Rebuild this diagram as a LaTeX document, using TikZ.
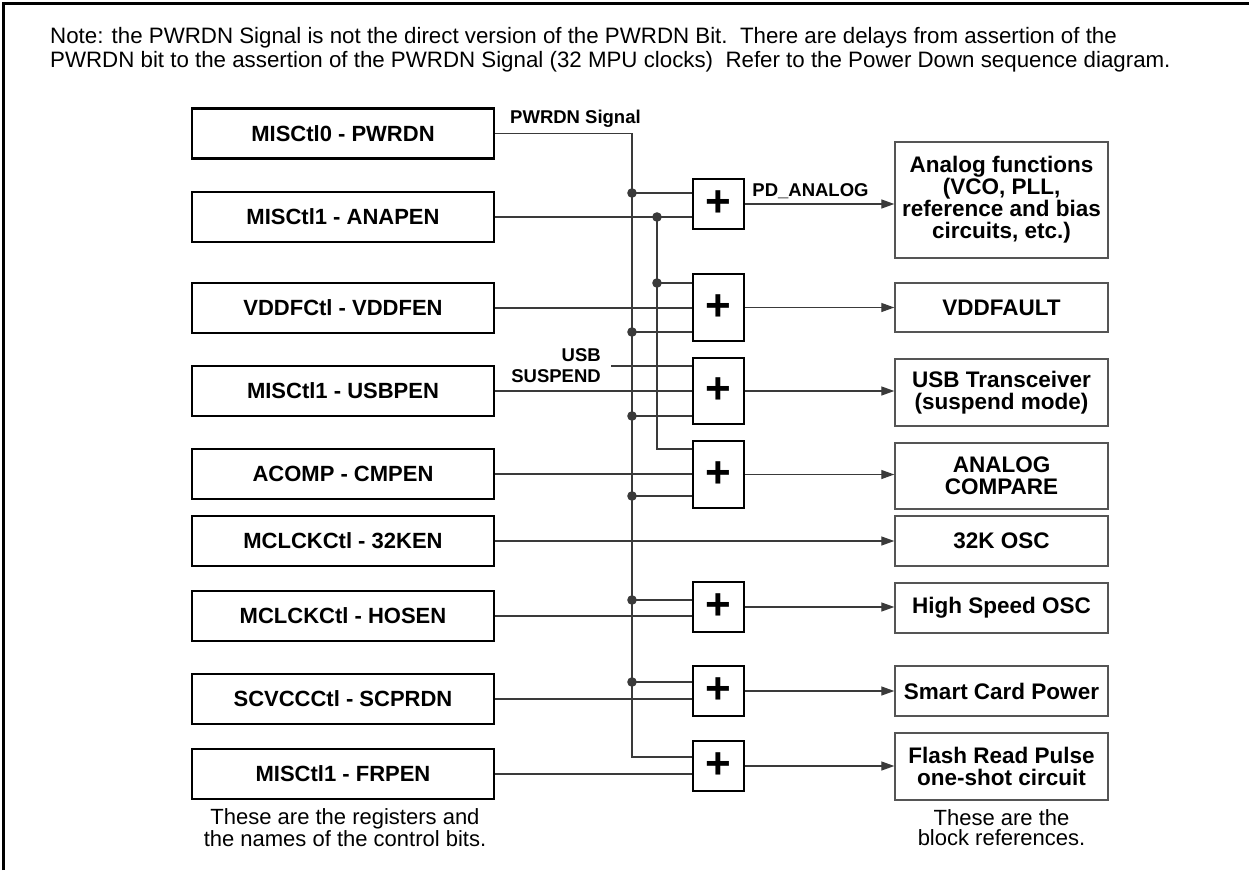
\documentclass[tikz,border=0pt]{standalone}
\usepackage{fontspec}
\setmainfont{Liberation Sans}
\usetikzlibrary{arrows.meta}

% Changing color 58 58 58
\definecolor{r58g58b58}{rgb}{0.227451,0.227451,0.227451}
% Changing color 85 85 85
\definecolor{r85g85b85}{rgb}{0.333333,0.333333,0.333333}

\begin{document}
\begin{tikzpicture}[x=1pt,y=-1pt,
    regbox/.style={draw=black, line width=2.4pt, minimum width=302pt, minimum height=50pt, inner sep=0pt, font=\fontsize{22}{22}\selectfont\bfseries},
    blockbox/.style={draw=r85g85b85, line width=1.4pt, minimum width=213pt, inner sep=0pt, align=center, font=\fontsize{22.5}{22}\selectfont\bfseries},
    orbox/.style={draw=black, line width=2pt, minimum width=51pt, inner sep=0pt, font=\fontsize{44}{44}\selectfont\bfseries},
    wire/.style={draw=r58g58b58, line width=1.3pt},
    feed/.style={wire, -{Triangle[length=13pt,width=9pt]}},
    tag/.style={inner sep=0pt, font=\fontsize{18.5}{21}\selectfont\bfseries},
    remark/.style={inner sep=0pt, align=center, font=\fontsize{22}{19.5}\selectfont}]
\useasboundingbox (0,0) rectangle (1249,870);

% Drawing frame
\draw [line width=2.5pt] (3.5,870) -- (3.5,3.5) -- (1249,3.5);

% Note text
\node [inner sep=0pt, anchor=west, align=left, font=\fontsize{22.3}{24}\selectfont] (note) at (50,50)
  {Note: the PWRDN Signal is not the direct version of the PWRDN Bit.\ \ There are delays from assertion of the\\
   PWRDN bit to the assertion of the PWRDN Signal (32 MPU clocks)\ \ Refer to the Power Down sequence diagram.};

% Register boxes
\node [regbox] (pwrdn)  at (343,133.5) {MISCtl0 - PWRDN};
\node [regbox] (anapen) at (343,217) {MISCtl1 - ANAPEN};
\node [regbox] (vddfen) at (343,308) {VDDFCtl - VDDFEN};
\node [regbox] (usbpen) at (343,391) {MISCtl1 - USBPEN};
\node [regbox] (cmpen)  at (343,474) {ACOMP - CMPEN};
\node [regbox] (kosc)   at (343,541) {MCLCKCtl - 32KEN};
\node [regbox] (hosen)  at (343,616) {MCLCKCtl - HOSEN};
\node [regbox] (scprdn) at (343,699) {SCVCCCtl - SCPRDN};
\node [regbox] (frpen)  at (343,774) {MISCtl1 - FRPEN};

% OR gates
\node [orbox, minimum height=50pt] (orA) at (718.5,204) {+};
\node [orbox, minimum height=67pt] (orV) at (718.5,307.5) {+};
\node [orbox, minimum height=66pt] (orU) at (718.5,391) {+};
\node [orbox, minimum height=67pt] (orC) at (718.5,474.5) {+};
\node [orbox, minimum height=50pt] (orH) at (718.5,607) {+};
\node [orbox, minimum height=50pt] (orS) at (718.5,691) {+};
\node [orbox, minimum height=50pt] (orF) at (718.5,766) {+};

% Block references
\node [blockbox, minimum height=116pt] (analog)   at (1001.5,200) {Analog functions\\(VCO, PLL,\\reference and bias\\circuits, etc.)};
\node [blockbox, minimum height=49pt]  (vddfault) at (1001.5,307.5) {VDDFAULT};
\node [blockbox, minimum height=67pt]  (usbx)     at (1001.5,392.5) {USB Transceiver\\(suspend mode)};
\node [blockbox, minimum height=66pt]  (acomp)    at (1001.5,476) {ANALOG\\COMPARE};
\node [blockbox, minimum height=50pt]  (osc32)    at (1001.5,541) {32K OSC};
\node [blockbox, minimum height=50pt]  (hsosc)    at (1001.5,608) {High Speed OSC};
\node [blockbox, minimum height=50pt]  (scpow)    at (1001.5,691) {Smart Card Power};
\node [blockbox, minimum height=67pt]  (flash)    at (1001.5,766.5) {Flash Read Pulse\\one-shot circuit};

% Bus points
\coordinate (b0) at (632,133.5);
\coordinate (d1) at (632,193);
\coordinate (d2) at (632,332);
\coordinate (d3) at (632,416);
\coordinate (d4) at (632,496);
\coordinate (d5) at (632,600);
\coordinate (d6) at (632,682);
\coordinate (b9) at (632,757);
\coordinate (e0) at (657,217);
\coordinate (e1) at (657,283);
\coordinate (e9) at (657,449);
\coordinate (usbs) at (611,366);

% Drawing PWRDN signal bus
\draw [wire] (pwrdn.east) -- (b0) -- (b9) -- (b9 -| orF.west);
\foreach \p/\g in {d1/orA, d2/orV, d3/orU, d4/orC, d5/orH, d6/orS}
  \draw [wire] (\p) -- (\p -| \g.west);

% Drawing ANAPEN bus
\draw [wire] (e0) -- (e9) -- (e9 -| orC.west);
\draw [wire] (e1) -- (e1 -| orV.west);

% Drawing enable lines
\foreach \r/\g in {anapen/orA, vddfen/orV, usbpen/orU, cmpen/orC, hosen/orH, scprdn/orS, frpen/orF}
  \draw [wire] (\r.east) -- (\r.east -| \g.west);
\draw [wire] (usbs) -- (usbs -| orU.west);

% Drawing outputs
\foreach \g/\b in {orA/analog, orV/vddfault, orU/usbx, orC/acomp, orH/hsosc, orS/scpow, orF/flash}
  \draw [feed] (\g.east) -- (\g.east -| \b.west);
\draw [feed] (kosc.east) -- (kosc.east -| osc32.west);

% Marking junctions by dots
\foreach \p in {d1,d2,d3,d4,d5,d6,e0,e1}
  \fill [r58g58b58] (\p) circle (4.8pt);

% Labels
\node [tag, anchor=west] (pwrdnsig) at (510,119) {PWRDN Signal};
\node [tag] (pdanalog) at (810.5,191) {PD\_ANALOG};
\node [tag, anchor=east, align=right] (usbsusp) at (601,366) {USB\\SUSPEND};

% Footnotes
\node [remark] (regnote) at (345,827.5) {These are the registers and\\the names of the control bits.};
\node [remark] (blknote) at (1001.5,827.5) {These are the\\block references.};
\end{tikzpicture}
\end{document}
